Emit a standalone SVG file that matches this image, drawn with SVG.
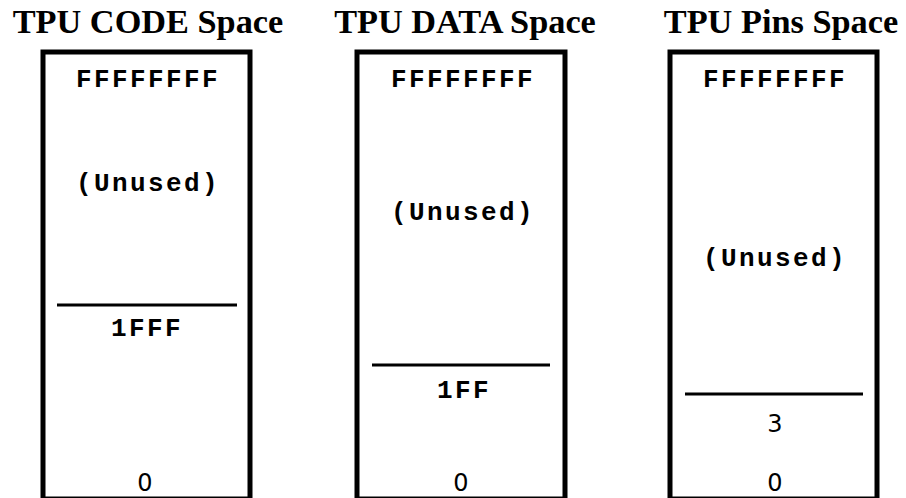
<svg xmlns="http://www.w3.org/2000/svg" width="906" height="498" viewBox="0 0 906 498">
<style>
.title{font-family:"Liberation Serif","Times New Roman",serif;font-weight:bold;font-size:34.3px;fill:#000;text-anchor:middle}
.box{fill:#fff;stroke:#000;stroke-width:5}
.div{stroke:#000;stroke-width:3}
.mono{font-family:"Liberation Mono","Courier New",monospace;font-weight:bold;font-size:26px;letter-spacing:2.4px;fill:#000;text-anchor:middle}
.num{font-family:"DejaVu Sans",sans-serif;font-size:24px;fill:#000;text-anchor:middle}
</style>
<rect width="906" height="498" fill="#fff"/>
<g id="code">
<text class="title" x="148" y="33">TPU CODE Space</text>
<rect class="box" x="43" y="52" width="207" height="447"/>
<text class="mono" x="148" y="87">FFFFFFFF</text>
<text class="mono" x="148" y="191">(Unused)</text>
<line class="div" x1="57" y1="305" x2="237" y2="305"/>
<text class="mono" x="147" y="336">1FFF</text>
<text class="num" x="145" y="491">0</text>
</g>
<g id="data">
<text class="title" x="465" y="33">TPU DATA Space</text>
<rect class="box" x="357" y="52" width="208" height="447"/>
<text class="mono" x="463" y="87">FFFFFFFF</text>
<text class="mono" x="463" y="220">(Unused)</text>
<line class="div" x1="372" y1="365" x2="550" y2="365"/>
<text class="mono" x="464" y="398">1FF</text>
<text class="num" x="461" y="491">0</text>
</g>
<g id="pins">
<text class="title" x="781" y="33">TPU Pins Space</text>
<rect class="box" x="670" y="52" width="207" height="447"/>
<text class="mono" x="775" y="87">FFFFFFFF</text>
<text class="mono" x="775" y="266">(Unused)</text>
<line class="div" x1="685" y1="394" x2="863" y2="394"/>
<text class="num" x="775" y="432">3</text>
<text class="num" x="775" y="491">0</text>
</g>
<g id="connectors"></g>
</svg>
